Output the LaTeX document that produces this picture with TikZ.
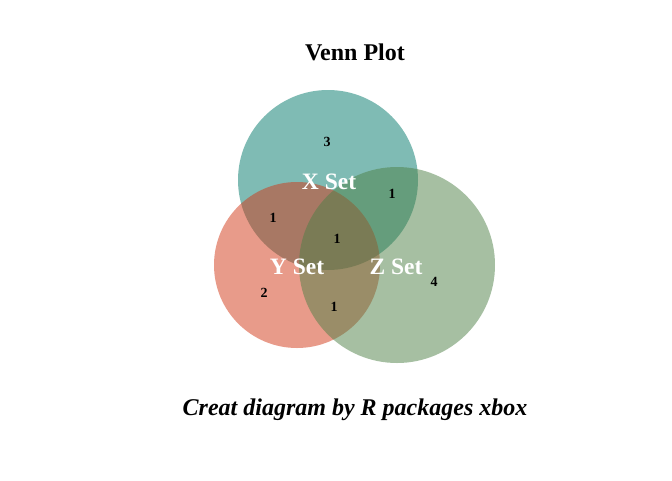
\documentclass[tikz,border=0pt]{standalone}
\usepackage{fontspec}
\setmainfont{Liberation Serif}
\usepackage{tikz}
\definecolor{xteal}{RGB}{0, 120, 105}
\definecolor{ysalmon}{RGB}{210, 55, 22}
\definecolor{zgreen}{RGB}{77, 128, 70}

\begin{document}
\begin{tikzpicture}[x=1pt, y=-1pt,
  setcircle/.style={circle, inner sep=0pt, fill opacity=0.5},
  setlabel/.style={text=white, font=\fontsize{23.5}{25}\selectfont\bfseries},
  count/.style={font=\fontsize{14}{16}\selectfont\bfseries}]
\useasboundingbox (0,0) rectangle (672,480);

% Sets
\node[setcircle, fill=xteal, minimum size=180pt] (x) at (328,180) {};
\node[setcircle, fill=ysalmon, minimum size=166pt] (y) at (297,265) {};
\node[setcircle, fill=zgreen, minimum size=196pt] (z) at (397,265) {};

% Set names
\node[setlabel] (xl) at (329,182) {X Set};
\node[setlabel] (yl) at (297,267) {Y Set};
\node[setlabel] (zl) at (396,267) {Z Set};

% Counts
\node[count] (nx) at (327,142) {3};
\node[count] (nxz) at (392,194) {1};
\node[count] (nxy) at (273,218) {1};
\node[count] (nxyz) at (337,239) {1};
\node[count] (ny) at (264,293) {2};
\node[count] (nyz) at (334,307) {1};
\node[count] (nz) at (434,282) {4};

% Title and caption
\node[font=\fontsize{24}{28}\selectfont\bfseries] (title) at (355,52) {Venn Plot};
\node[font=\fontsize{24}{28}\selectfont\bfseries\itshape] (caption) at (355,410) {Creat diagram by R packages xbox};
\end{tikzpicture}
\end{document}
